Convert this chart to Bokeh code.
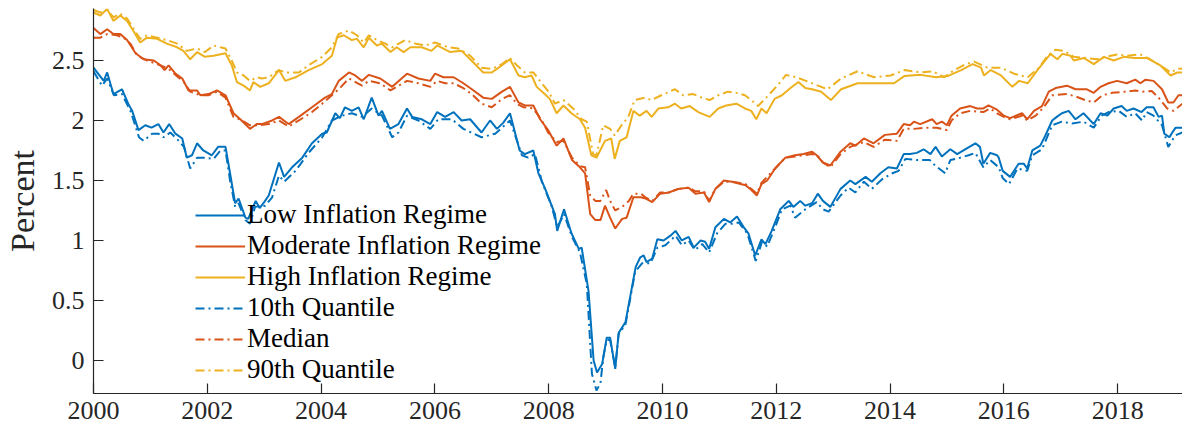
from bokeh.plotting import figure
from bokeh.models import Range1d, FixedTicker, Legend, LegendItem
from bokeh.embed import file_html
from bokeh.resources import INLINE

# ---------------- data (decimal years, percent) ----------------
low_t = [2000.00,2000.18,2000.24,2000.35,2000.50,2000.61,2000.68,2000.79,2000.91,2001.02,2001.14,2001.23,2001.33,2001.44,2001.56,2001.64,2001.73,2001.82,2001.93,2002.08,2002.19,2002.32,2002.40,2002.49,2002.55,2002.67,2002.72,2002.85,2002.92,2003.00,2003.08,2003.26,2003.35,2003.49,2003.67,2003.84,2004.02,2004.10,2004.25,2004.33,2004.42,2004.54,2004.66,2004.75,2004.89,2005.01,2005.07,2005.21,2005.36,2005.51,2005.60,2005.77,2005.92,2006.04,2006.18,2006.33,2006.47,2006.62,2006.82,2006.97,2007.09,2007.20,2007.32,2007.49,2007.58,2007.73,2007.82,2007.93,2008.11,2008.15,2008.27,2008.40,2008.53,2008.58,2008.70,2008.79,2008.85,2008.94,2009.02,2009.08,2009.17,2009.23,2009.35,2009.53,2009.61,2009.67,2009.72,2009.82,2009.91,2010.02,2010.14,2010.23,2010.34,2010.46,2010.55,2010.67,2010.75,2010.82,2010.93,2011.08,2011.19,2011.31,2011.43,2011.51,2011.63,2011.74,2011.81,2011.92,2012.07,2012.22,2012.30,2012.42,2012.51,2012.63,2012.73,2012.82,2012.95,2013.13,2013.30,2013.39,2013.57,2013.68,2013.83,2013.97,2014.12,2014.24,2014.35,2014.47,2014.59,2014.71,2014.80,2014.91,2015.06,2015.18,2015.32,2015.50,2015.58,2015.64,2015.76,2015.88,2015.91,2015.98,2016.11,2016.26,2016.35,2016.41,2016.50,2016.64,2016.73,2016.85,2016.93,2017.02,2017.14,2017.26,2017.40,2017.58,2017.70,2017.82,2017.93,2018.07,2018.16,2018.28,2018.42,2018.51,2018.63,2018.72,2018.78,2018.82,2018.91,2018.96,2019.02,2019.14]
low_v = [2.44,2.33,2.40,2.22,2.26,2.14,2.08,1.92,1.96,1.94,1.97,1.90,1.97,1.89,1.85,1.69,1.71,1.81,1.75,1.71,1.78,1.78,1.56,1.31,1.35,1.19,1.18,1.33,1.27,1.32,1.375,1.65,1.53,1.61,1.69,1.81,1.89,1.90,2.06,2.02,2.11,2.08,2.11,2.01,2.19,2.04,2.08,1.93,1.97,2.10,2.03,2.01,1.97,2.07,2.03,2.07,2.00,2.01,1.90,2.00,1.93,1.98,2.06,1.75,1.72,1.75,1.56,1.44,1.22,1.08,1.26,1.06,0.93,0.94,0.58,0.00,-0.10,-0.03,0.19,0.19,-0.07,0.23,0.32,0.78,0.86,0.875,0.82,0.85,1.01,1.00,1.04,1.08,1.00,1.03,0.94,1.00,0.99,0.93,1.11,1.18,1.15,1.20,1.11,1.06,0.875,1.01,0.97,1.08,1.26,1.33,1.28,1.33,1.29,1.31,1.39,1.33,1.28,1.43,1.50,1.47,1.53,1.49,1.56,1.61,1.60,1.72,1.72,1.73,1.76,1.72,1.78,1.70,1.76,1.72,1.76,1.81,1.78,1.64,1.73,1.71,1.69,1.58,1.53,1.64,1.64,1.60,1.75,1.79,1.875,2.00,2.03,2.06,2.08,2.01,2.06,1.97,2.06,2.04,2.10,2.12,2.08,2.10,2.07,2.11,2.11,2.03,2.04,1.89,1.86,1.90,1.94,1.94]

q10_t = [2000.00,2000.15,2000.24,2000.36,2000.50,2000.65,2000.80,2000.88,2001.03,2001.14,2001.23,2001.35,2001.50,2001.59,2001.70,2001.82,2001.96,2002.11,2002.23,2002.32,2002.40,2002.49,2002.55,2002.67,2002.75,2002.84,2003.02,2003.14,2003.26,2003.35,2003.55,2003.78,2004.02,2004.19,2004.37,2004.54,2004.72,2004.89,2005.07,2005.25,2005.36,2005.51,2005.71,2005.92,2006.06,2006.30,2006.50,2006.82,2007.06,2007.32,2007.53,2007.64,2007.76,2007.88,2008.05,2008.15,2008.27,2008.41,2008.55,2008.67,2008.76,2008.84,2008.91,2008.96,2009.02,2009.08,2009.17,2009.23,2009.35,2009.52,2009.64,2009.79,2009.91,2010.05,2010.23,2010.34,2010.46,2010.57,2010.70,2010.82,2010.96,2011.11,2011.26,2011.34,2011.49,2011.64,2011.75,2011.84,2011.98,2012.10,2012.25,2012.33,2012.51,2012.71,2012.82,2012.92,2013.13,2013.27,2013.39,2013.54,2013.68,2013.86,2014.04,2014.15,2014.27,2014.47,2014.70,2014.79,2014.97,2015.06,2015.23,2015.38,2015.50,2015.64,2015.76,2015.91,2015.98,2016.09,2016.24,2016.41,2016.50,2016.67,2016.85,2017.02,2017.20,2017.40,2017.58,2017.72,2017.84,2018.02,2018.16,2018.31,2018.43,2018.51,2018.63,2018.78,2018.89,2019.01,2019.14]
q10_v = [2.41,2.29,2.35,2.21,2.22,2.08,1.86,1.83,1.89,1.89,1.86,1.90,1.83,1.78,1.60,1.69,1.69,1.68,1.75,1.75,1.50,1.28,1.31,1.17,1.14,1.28,1.29,1.36,1.54,1.49,1.58,1.73,1.86,2.00,2.04,2.06,2.03,2.10,2.04,1.86,1.90,2.04,2.00,1.93,2.01,2.01,1.93,1.86,1.89,2.00,1.71,1.69,1.72,1.49,1.29,1.11,1.22,1.03,0.90,0.64,-0.11,-0.25,-0.19,0.03,0.17,0.17,-0.06,0.22,0.30,0.74,0.81,0.81,0.94,0.96,1.04,0.96,1.00,0.92,0.97,0.90,1.06,1.14,1.14,1.15,1.06,0.83,0.99,0.95,1.11,1.26,1.29,1.19,1.26,1.32,1.26,1.24,1.375,1.44,1.40,1.49,1.43,1.51,1.56,1.58,1.68,1.67,1.67,1.625,1.56,1.67,1.69,1.71,1.73,1.61,1.67,1.61,1.52,1.47,1.60,1.58,1.71,1.76,1.96,1.99,1.975,1.99,1.94,2.04,2.07,2.08,2.03,2.06,2.00,2.07,2.04,1.96,1.78,1.875,1.90]

mod_t = [2000.00,2000.12,2000.24,2000.35,2000.47,2000.59,2000.74,2000.88,2001.06,2001.18,2001.25,2001.32,2001.44,2001.56,2001.67,2001.82,2001.88,2002.02,2002.17,2002.32,2002.46,2002.58,2002.75,2002.87,2002.96,2003.14,2003.26,2003.43,2003.61,2003.84,2004.07,2004.19,2004.31,2004.49,2004.60,2004.72,2004.84,2005.04,2005.25,2005.51,2005.71,2005.92,2006.00,2006.15,2006.33,2006.50,2006.65,2006.85,2007.00,2007.18,2007.32,2007.47,2007.58,2007.73,2007.85,2007.99,2008.14,2008.26,2008.41,2008.55,2008.64,2008.73,2008.82,2008.91,2008.99,2009.08,2009.17,2009.29,2009.37,2009.49,2009.62,2009.70,2009.82,2009.96,2010.11,2010.28,2010.46,2010.58,2010.73,2010.82,2010.93,2011.08,2011.22,2011.46,2011.54,2011.66,2011.74,2011.84,2011.98,2012.16,2012.33,2012.48,2012.63,2012.71,2012.82,2012.95,2013.13,2013.30,2013.39,2013.54,2013.71,2013.91,2014.12,2014.24,2014.35,2014.42,2014.53,2014.74,2014.82,2014.91,2015.00,2015.08,2015.23,2015.41,2015.53,2015.64,2015.73,2015.88,2016.00,2016.11,2016.32,2016.41,2016.53,2016.67,2016.79,2016.91,2017.11,2017.26,2017.46,2017.58,2017.70,2017.84,2017.99,2018.16,2018.31,2018.40,2018.49,2018.63,2018.78,2018.89,2018.98,2019.07,2019.14]
mod_v = [2.77,2.72,2.76,2.72,2.72,2.67,2.56,2.51,2.50,2.46,2.42,2.46,2.39,2.35,2.25,2.25,2.21,2.22,2.25,2.21,2.06,2.01,1.93,1.97,1.97,2.00,2.03,1.97,2.03,2.11,2.19,2.22,2.33,2.40,2.375,2.33,2.38,2.35,2.28,2.39,2.35,2.33,2.39,2.36,2.36,2.31,2.26,2.19,2.18,2.24,2.28,2.15,2.125,2.125,2.01,1.92,1.79,1.85,1.67,1.61,1.56,1.22,1.17,1.17,1.29,1.19,1.10,1.18,1.19,1.36,1.36,1.35,1.32,1.39,1.40,1.43,1.44,1.39,1.40,1.32,1.43,1.50,1.49,1.46,1.43,1.375,1.47,1.50,1.60,1.69,1.71,1.72,1.74,1.71,1.65,1.625,1.74,1.81,1.79,1.85,1.81,1.88,1.89,1.97,1.96,1.99,1.97,2.01,1.97,1.99,1.96,2.04,2.10,2.12,2.10,2.10,2.125,2.09,2.04,2.02,2.06,2.01,2.08,2.12,2.24,2.27,2.29,2.26,2.26,2.23,2.28,2.31,2.33,2.31,2.34,2.31,2.34,2.33,2.26,2.15,2.15,2.21,2.21]

med_t = [2000.00,2000.12,2000.24,2000.41,2000.53,2000.65,2000.77,2000.94,2001.12,2001.32,2001.44,2001.59,2001.70,2001.88,2002.02,2002.17,2002.32,2002.46,2002.61,2002.75,2002.90,2003.08,2003.26,2003.43,2003.61,2003.84,2004.02,2004.19,2004.31,2004.49,2004.72,2004.84,2005.04,2005.22,2005.51,2005.71,2005.92,2006.04,2006.18,2006.33,2006.50,2006.65,2006.82,2007.00,2007.18,2007.32,2007.44,2007.56,2007.73,2007.88,2007.99,2008.14,2008.26,2008.41,2008.55,2008.64,2008.73,2008.82,2008.91,2009.01,2009.08,2009.17,2009.29,2009.41,2009.49,2009.62,2009.70,2009.82,2009.96,2010.11,2010.28,2010.46,2010.58,2010.73,2010.82,2010.93,2011.08,2011.22,2011.46,2011.66,2011.74,2011.98,2012.16,2012.33,2012.63,2012.72,2012.82,2012.95,2013.13,2013.30,2013.54,2013.71,2013.91,2014.12,2014.24,2014.42,2014.65,2014.82,2015.00,2015.08,2015.23,2015.41,2015.64,2015.76,2015.88,2016.00,2016.11,2016.32,2016.41,2016.56,2016.70,2016.85,2017.11,2017.26,2017.43,2017.58,2017.73,2017.90,2018.13,2018.31,2018.43,2018.60,2018.72,2018.87,2018.98,2019.14]
med_v = [2.69,2.69,2.72,2.71,2.69,2.64,2.54,2.50,2.47,2.43,2.38,2.32,2.24,2.21,2.21,2.24,2.19,2.03,2.00,1.96,1.96,1.97,2.00,1.95,2.00,2.07,2.14,2.21,2.26,2.35,2.29,2.33,2.31,2.25,2.33,2.31,2.28,2.33,2.31,2.31,2.27,2.22,2.14,2.11,2.18,2.21,2.14,2.11,2.10,2.00,1.90,1.82,1.83,1.69,1.62,1.61,1.375,1.33,1.33,1.42,1.33,1.25,1.28,1.33,1.39,1.39,1.36,1.33,1.40,1.40,1.43,1.44,1.41,1.41,1.33,1.43,1.49,1.49,1.47,1.39,1.48,1.60,1.69,1.70,1.72,1.71,1.65,1.61,1.72,1.78,1.82,1.78,1.84,1.83,1.93,1.93,1.94,1.94,1.92,2.00,2.06,2.08,2.07,2.10,2.06,2.03,2.01,2.04,2.00,2.04,2.11,2.21,2.22,2.20,2.17,2.15,2.21,2.23,2.24,2.25,2.24,2.245,2.19,2.10,2.08,2.14]

high_t = [2000.00,2000.12,2000.24,2000.35,2000.47,2000.59,2000.71,2000.82,2000.94,2001.12,2001.29,2001.47,2001.58,2001.70,2001.82,2001.96,2002.11,2002.32,2002.43,2002.52,2002.64,2002.75,2002.81,2002.93,2003.08,2003.26,2003.37,2003.55,2003.78,2004.02,2004.19,2004.28,2004.40,2004.54,2004.63,2004.75,2004.84,2004.98,2005.07,2005.22,2005.33,2005.45,2005.57,2005.77,2005.94,2006.04,2006.27,2006.47,2006.62,2006.85,2007.00,2007.09,2007.18,2007.32,2007.47,2007.58,2007.70,2007.79,2007.93,2008.02,2008.14,2008.26,2008.40,2008.55,2008.64,2008.75,2008.84,2008.99,2009.10,2009.16,2009.25,2009.37,2009.49,2009.60,2009.72,2009.81,2009.93,2010.10,2010.22,2010.33,2010.48,2010.63,2010.83,2010.98,2011.12,2011.30,2011.45,2011.56,2011.65,2011.74,2011.83,2011.97,2012.10,2012.25,2012.39,2012.51,2012.63,2012.79,2012.96,2013.14,2013.43,2013.72,2014.07,2014.25,2014.54,2014.81,2015.01,2015.25,2015.45,2015.60,2015.65,2015.77,2015.95,2016.15,2016.27,2016.42,2016.59,2016.82,2016.94,2017.03,2017.17,2017.23,2017.41,2017.58,2017.76,2017.93,2018.11,2018.29,2018.52,2018.75,2018.93,2019.05,2019.14]
high_v = [2.90,2.875,2.93,2.83,2.875,2.83,2.74,2.65,2.69,2.68,2.64,2.61,2.58,2.51,2.57,2.53,2.54,2.56,2.46,2.32,2.29,2.25,2.32,2.28,2.31,2.42,2.33,2.36,2.42,2.47,2.54,2.69,2.71,2.67,2.68,2.61,2.69,2.625,2.64,2.57,2.61,2.57,2.61,2.61,2.58,2.625,2.57,2.58,2.51,2.40,2.40,2.43,2.46,2.51,2.375,2.36,2.375,2.28,2.22,2.18,2.06,2.125,2.06,2.01,1.94,1.71,1.69,1.83,1.85,1.68,1.83,1.86,2.08,2.04,2.08,2.03,2.10,2.11,2.14,2.10,2.12,2.07,2.03,2.10,2.125,2.14,2.10,2.08,2.01,2.10,2.06,2.18,2.21,2.27,2.32,2.27,2.26,2.24,2.17,2.26,2.31,2.31,2.31,2.37,2.38,2.36,2.37,2.42,2.47,2.44,2.375,2.42,2.375,2.28,2.33,2.31,2.42,2.555,2.51,2.555,2.54,2.50,2.52,2.47,2.53,2.50,2.53,2.52,2.52,2.46,2.375,2.40,2.40]

q90_t = [2000.00,2000.12,2000.24,2000.35,2000.47,2000.59,2000.71,2000.82,2000.94,2001.12,2001.29,2001.47,2001.64,2001.82,2001.96,2002.11,2002.23,2002.32,2002.43,2002.52,2002.64,2002.75,2002.87,2002.96,2003.08,2003.26,2003.37,2003.61,2003.78,2004.02,2004.19,2004.31,2004.49,2004.63,2004.75,2004.84,2004.98,2005.13,2005.25,2005.48,2005.66,2005.83,2006.00,2006.24,2006.41,2006.62,2006.82,2007.00,2007.18,2007.32,2007.44,2007.58,2007.73,2007.88,2008.00,2008.11,2008.26,2008.43,2008.58,2008.67,2008.78,2008.84,2008.96,2009.08,2009.16,2009.28,2009.40,2009.51,2009.69,2009.81,2009.98,2010.22,2010.36,2010.54,2010.69,2010.83,2010.98,2011.15,2011.30,2011.45,2011.56,2011.68,2011.80,2011.94,2012.09,2012.17,2012.35,2012.52,2012.90,2013.14,2013.43,2013.72,2014.01,2014.25,2014.54,2014.75,2014.95,2015.13,2015.33,2015.48,2015.71,2015.95,2016.18,2016.42,2016.62,2016.77,2016.91,2017.06,2017.23,2017.46,2017.64,2017.78,2017.99,2018.17,2018.40,2018.57,2018.75,2018.93,2019.05,2019.14]
q90_v = [2.92,2.90,2.92,2.86,2.89,2.85,2.76,2.68,2.71,2.69,2.67,2.64,2.58,2.60,2.57,2.625,2.61,2.60,2.50,2.40,2.375,2.33,2.36,2.35,2.36,2.42,2.40,2.40,2.46,2.53,2.61,2.72,2.75,2.71,2.65,2.71,2.67,2.64,2.61,2.67,2.64,2.625,2.65,2.61,2.60,2.54,2.44,2.43,2.47,2.52,2.46,2.40,2.40,2.31,2.24,2.14,2.17,2.10,2.01,1.99,1.72,1.71,1.96,1.93,1.875,1.96,2.03,2.17,2.19,2.17,2.21,2.26,2.21,2.22,2.19,2.17,2.21,2.24,2.23,2.21,2.17,2.12,2.18,2.25,2.33,2.38,2.36,2.33,2.26,2.35,2.41,2.36,2.375,2.42,2.40,2.41,2.36,2.42,2.47,2.49,2.44,2.44,2.39,2.36,2.44,2.54,2.59,2.58,2.53,2.52,2.51,2.53,2.55,2.54,2.55,2.51,2.46,2.40,2.43,2.43]

series_labels = ["Low Inflation Regime", "Moderate Inflation Regime", "High Inflation Regime",
                 "10th Quantile", "Median", "90th Quantile"]
x_ticks = [2000, 2002, 2004, 2006, 2008, 2010, 2012, 2014, 2016, 2018]
x_tick_labels = ["2000", "2002", "2004", "2006", "2008", "2010", "2012", "2014", "2016", "2018"]
y_ticks = [0, 0.5, 1, 1.5, 2, 2.5]
y_tick_labels = ["0", "0.5", "1", "1.5", "2", "2.5"]
y_label = "Percent"

# ---------------- styling ----------------
BLUE, ORANGE, YELLOW = "#0072BD", "#D95319", "#EDB120"
AX = "#262626"
FONT = "Liberation Serif"

p = figure(width=1182, height=431, output_backend="svg", toolbar_location=None,
           x_range=Range1d(2000, 2019.14), y_range=Range1d(-0.275, 2.933),
           min_border_left=91, min_border_right=0, min_border_top=8, min_border_bottom=38)
p.outline_line_color = None
p.xgrid.visible = False
p.ygrid.visible = False
p.background_fill_color = "white"
p.border_fill_color = "white"

lw = 2.0
dash = "9 4 2 4"
r_low = p.line(low_t, low_v, color=BLUE, line_width=lw)
r_mod = p.line(mod_t, mod_v, color=ORANGE, line_width=lw)
r_high = p.line(high_t, high_v, color=YELLOW, line_width=lw)
r_q10 = p.line(q10_t, q10_v, color=BLUE, line_width=lw, line_dash=dash)
r_med = p.line(med_t, med_v, color=ORANGE, line_width=lw, line_dash=dash)
r_q90 = p.line(q90_t, q90_v, color=YELLOW, line_width=lw, line_dash=dash)

for ax in (p.xaxis[0], p.yaxis[0]):
    ax.axis_line_color = AX
    ax.axis_line_width = 1.2
    ax.major_tick_line_color = AX
    ax.major_tick_line_width = 1.2
    ax.major_tick_in = 10
    ax.major_tick_out = 0
    ax.minor_tick_line_color = None
    ax.major_label_text_font = FONT
    ax.major_label_text_color = AX
    ax.major_label_text_font_size = "26px"

p.xaxis.ticker = FixedTicker(ticks=x_ticks)
p.xaxis.major_label_overrides = dict(zip(x_ticks, x_tick_labels))
p.xaxis.major_label_standoff = 8
p.yaxis.ticker = FixedTicker(ticks=y_ticks)
p.yaxis.major_label_overrides = dict(zip(y_ticks, y_tick_labels))
p.yaxis.major_label_standoff = 9
p.yaxis.axis_label = y_label
p.yaxis.axis_label_text_font = FONT
p.yaxis.axis_label_text_font_style = "normal"
p.yaxis.axis_label_text_font_size = "34px"
p.yaxis.axis_label_text_color = AX
p.yaxis.axis_label_standoff = 8

renderers = [r_low, r_mod, r_high, r_q10, r_med, r_q90]
legend = Legend(items=[LegendItem(label=l, renderers=[r]) for l, r in zip(series_labels, renderers)],
                location=(102, 8), border_line_color=None, background_fill_alpha=0,
                label_text_font=FONT, label_text_font_size="27px", label_text_color="black",
                glyph_width=50, glyph_height=30, label_height=30, spacing=0, padding=0,
                margin=0, label_standoff=2)
p.add_layout(legend)

open("out.html", "w").write(file_html(p, INLINE))
